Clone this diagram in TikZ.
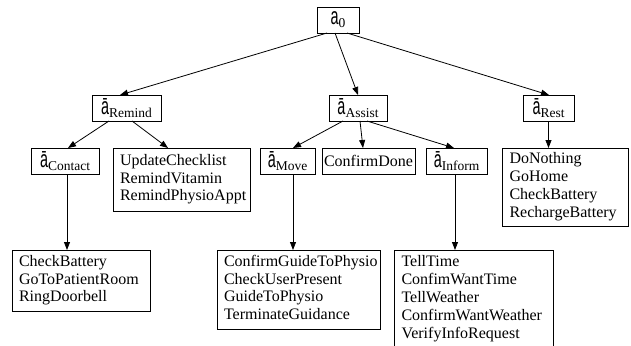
\documentclass[tikz,border=0pt]{standalone}
\usepackage{fontspec}
\usepackage{graphicx}
\setmainfont{Liberation Serif}
\newfontfamily\sansf{Liberation Sans}
\usetikzlibrary{arrows.meta}
\newcommand{\myabar}{\scalebox{0.6}[1]{\fontsize{24}{24}\sansf ā}}
\newcommand{\myaplain}{\scalebox{0.6}[1]{\fontsize{24}{24}\sansf a}}
\newcommand{\mysub}[1]{\raisebox{-3pt}{\fontsize{13.5}{14}\selectfont #1}}
\newcommand{\mylab}[1]{\myabar\mysub{#1}}
\begin{document}
\begin{tikzpicture}[x=1pt,y=-1pt,
  box/.style={draw, line width=0.8pt, inner sep=0pt, outer sep=0pt},
  labbox/.style={box, minimum height=26pt},
  listbox/.style={box, align=left, inner xsep=7pt,
     font=\fontsize{16}{17.8}\selectfont},
  edge/.style={line width=0.8pt, -{Triangle[length=8pt,width=6pt]}}]
\useasboundingbox (0,0) rectangle (631,345);

\node[labbox, minimum width=42pt] (a0) at (338,20) {\myaplain\mysub{0}};
\node[labbox, minimum width=69pt] (remind) at (126.5,108) {\mylab{Remind}};
\node[labbox, minimum width=58pt] (assist) at (358,108) {\mylab{Assist}};
\node[labbox, minimum width=51pt] (rest) at (548.5,108) {\mylab{Rest}};

\node[labbox, minimum width=68pt] (contact) at (65,161) {\mylab{Contact}};
\node[listbox, minimum width=137pt, minimum height=63pt, text width=123pt] (update) at (181.5,179.5)
  {UpdateChecklist\strut\\RemindVitamin\strut\\RemindPhysioAppt\strut};
\node[labbox, minimum width=55pt] (move) at (287.5,161) {\mylab{Move}};
\node[labbox, minimum width=93pt, font=\fontsize{16}{17.8}\selectfont] (cdone) at (368.5,161) {ConfirmDone};
\node[labbox, minimum width=61pt] (inform) at (456.5,161) {\mylab{Inform}};
\node[listbox, minimum width=125pt, minimum height=78pt, text width=112pt] (rlist) at (565.5,187)
  {DoNothing\strut\\GoHome\strut\\CheckBattery\strut\\RechargeBattery\strut};

\node[listbox, minimum width=138pt, minimum height=61pt, text width=124pt] (cb) at (81,280.5)
  {CheckBattery\strut\\GoToPatientRoom\strut\\RingDoorbell\strut};
\node[listbox, minimum width=163pt, minimum height=79pt, text width=149pt] (cg) at (298.5,289.5)
  {ConfirmGuideToPhysio\strut\\CheckUserPresent\strut\\GuideToPhysio\strut\\TerminateGuidance\strut};
\node[listbox, minimum width=159pt, minimum height=98pt, text width=144pt] (tt) at (473.5,299)
  {TellTime\strut\\ConfimWantTime\strut\\TellWeather\strut\\ConfirmWantWeather\strut\\VerifyInfoRequest\strut};

\draw[edge] ([xshift=-11pt]a0.south) -- ([xshift=-6.5pt]remind.north);
\draw[edge] ([xshift=-3pt]a0.south) -- (assist.north);
\draw[edge] ([xshift=9pt]a0.south) -- ([xshift=0.5pt]rest.north);

\draw[edge] ([xshift=-17.5pt]remind.south) -- ([xshift=3pt]contact.north);
\draw[edge] ([xshift=5.5pt]remind.south) -- ([xshift=-13.5pt]update.north);

\draw[edge] ([xshift=-15pt]assist.south) -- ([xshift=5.5pt]move.north);
\draw[edge] ([xshift=2pt]assist.south) -- ([xshift=-5.5pt]cdone.north);
\draw[edge] ([xshift=9pt]assist.south) -- ([xshift=-2.5pt]inform.north);

\draw[edge] (rest.south) -- (rest.south |- rlist.north);
\draw[edge] ([xshift=2pt]contact.south) -- ([xshift=2pt]contact.south |- cb.north);
\draw[edge] ([xshift=5.5pt]move.south) -- ([xshift=5.5pt]move.south |- cg.north);
\draw[edge] ([xshift=-1.5pt]inform.south) -- ([xshift=-1.5pt]inform.south |- tt.north);
\end{tikzpicture}
\end{document}
